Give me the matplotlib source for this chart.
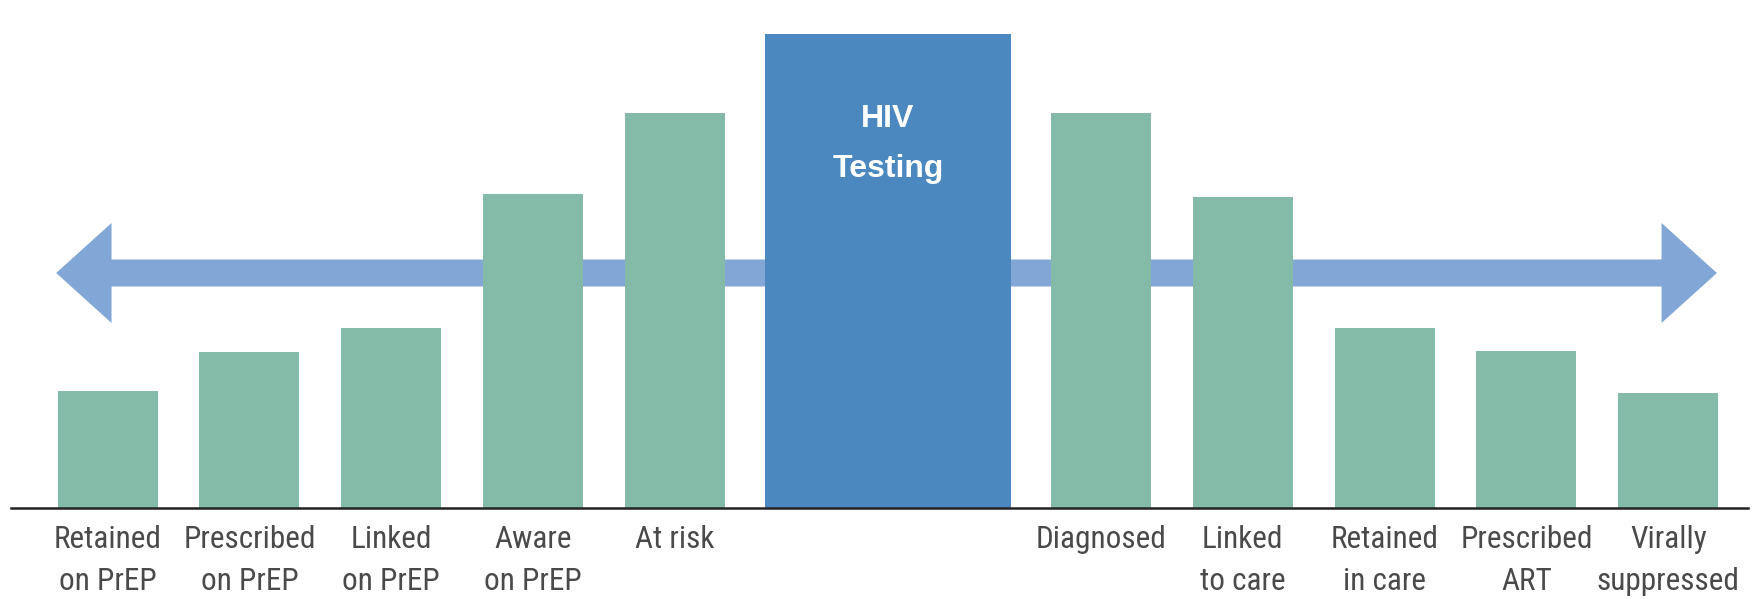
import matplotlib
matplotlib.use("Agg")
import matplotlib.pyplot as plt
from matplotlib.patches import Polygon

# cascade stages (left: prevention, right: care)
labels = ["Retained\non PrEP", "Prescribed\non PrEP", "Linked\non PrEP", "Aware\non PrEP",
          "At risk", "", "Diagnosed", "Linked\nto care", "Retained\nin care",
          "Prescribed\nART", "Virally\nsuppressed"]
values = [117, 156, 180, 314, 395, 474, 395, 311, 180, 157, 115]
center_label = "HIV\nTesting"

# layout (slot positions, HIV testing bar sits in the middle gap)
xpos = [0, 1, 2, 3, 4, 5.5, 7, 8, 9, 10, 11]
widths = [0.705] * 5 + [1.73] + [0.705] * 5
colors = ["#84BAA8"] * 5 + ["#4A88BF"] + ["#84BAA8"] * 5

fig = plt.figure(figsize=(17.62, 5.99), dpi=100)
ax = fig.add_axes([0, 0, 1, 1])
ax.set_xlim(-0.758, 11.66)
ax.set_ylim(-91, 508)
ax.axis("off")

# double headed arrow behind the bars
ay, shaft, head = 235, 13.5, 50
xl, xr = -0.362, 11.342
hl = 0.39
arrow = Polygon([(xl, ay), (xl + hl, ay + head), (xl + hl, ay + shaft),
                 (xr - hl, ay + shaft), (xr - hl, ay + head), (xr, ay),
                 (xr - hl, ay - head), (xr - hl, ay - shaft),
                 (xl + hl, ay - shaft), (xl + hl, ay - head)],
                closed=True, color="#82A6D6", zorder=1, lw=0)
ax.add_patch(arrow)

ax.bar(xpos, values, width=widths, color=colors, zorder=2)
ax.plot([-0.68, 11.56], [0, 0], color="#222222", lw=1.8, zorder=3)

for x, lab in zip(xpos, labels):
    ax.text(x, -17, lab, ha="center", va="top", fontsize=22.5, color="#4a4a4a",
            family=["Roboto Condensed", "Roboto", "DejaVu Sans"], fontstretch="condensed",
            linespacing=1.55)

ax.text(xpos[5], 364, center_label, ha="center", va="center", fontsize=23,
        color="white", fontweight="bold", family=["Liberation Sans", "DejaVu Sans"],
        linespacing=1.85)

plt.savefig("out.png", dpi=100, facecolor="white")
